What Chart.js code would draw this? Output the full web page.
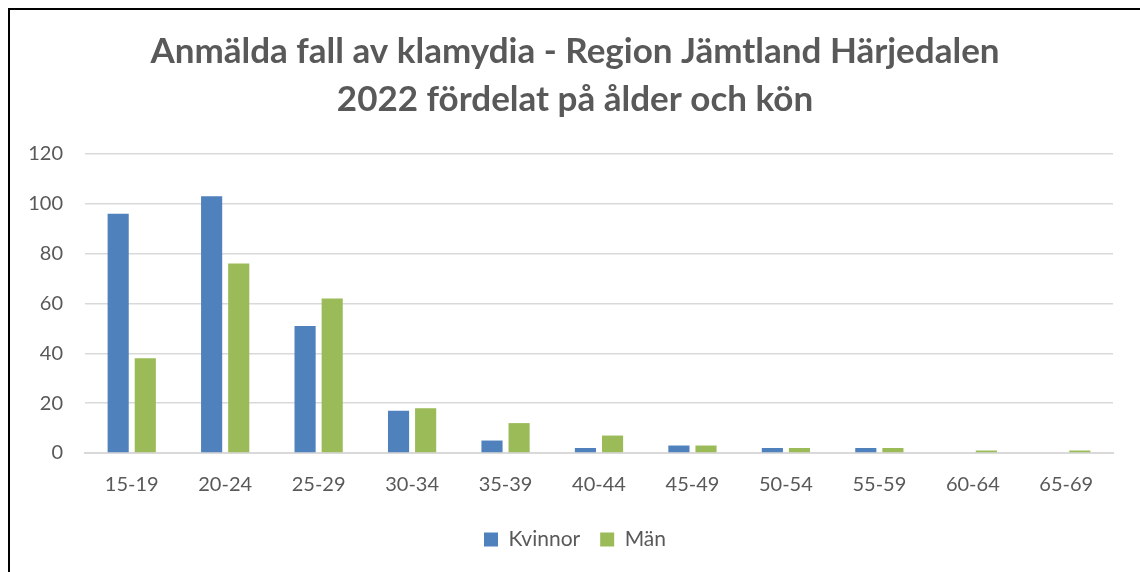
<!DOCTYPE html>
<html>
<head>
<meta charset="utf-8">
<script src="https://cdn.jsdelivr.net/npm/chart.js@4"></script>
<style>
  html, body { margin: 0; padding: 0; background: #fff; }
  #wrap { position: relative; width: 1140px; height: 572px; }
  #frame { position: absolute; left: 8px; top: 8px; right: 0; bottom: 0;
           border-left: 2px solid #000; border-top: 2px solid #000; pointer-events: none; }
  canvas { position: absolute; left: 0; top: 0; }
</style>
</head>
<body>
<div id="wrap">
  <canvas id="chart" width="1140" height="572"></canvas>
  <div id="frame"></div>
</div>
<script>
const ageGroups = ['15-19', '20-24', '25-29', '30-34', '35-39', '40-44', '45-49', '50-54', '55-59', '60-64', '65-69'];
const kvinnor = [96, 103, 51, 17, 5, 2, 3, 2, 2, 0, 0];
const man = [38, 76, 62, 18, 12, 7, 3, 2, 2, 1, 1];
const titleLines = ['Anmälda fall av klamydia - Region Jämtland Härjedalen', '2022 fördelat på ålder och kön'];

const grey = '#595959';
const ctx = document.getElementById('chart').getContext('2d');
new Chart(ctx, {
    type: 'bar',
    data: {
        labels: ageGroups,
        datasets: [
            { label: 'Kvinnor', data: kvinnor, backgroundColor: '#4f81bd' },
            { label: 'Män', data: man, backgroundColor: '#9bbb59' }
        ]
    },
    options: {
        responsive: false,
        animation: false,
        datasets: { bar: { barPercentage: 0.78, categoryPercentage: 0.58 } },
        layout: { padding: { left: 10, right: 0, top: 28, bottom: 12 } },
        plugins: {
            title: {
                display: true,
                text: titleLines,
                color: grey,
                font: { family: 'Lato', size: 35, weight: 'bold', lineHeight: 1.37 },
                padding: { top: 0, bottom: 30 }
            },
            legend: {
                position: 'bottom',
                labels: {
                    color: grey,
                    font: { family: 'Lato', size: 21 },
                    boxWidth: 14, boxHeight: 14, padding: 20
                }
            },
            tooltip: { enabled: false }
        },
        scales: {
            x: {
                grid: { display: false },
                border: { color: '#d9d9d9', width: 2 },
                ticks: { color: grey, font: { family: 'Lato', size: 20 }, padding: 12 }
            },
            y: {
                min: 0, max: 120,
                ticks: { stepSize: 20, color: grey, font: { family: 'Lato', size: 20 }, padding: 22 },
                grid: { color: '#d9d9d9', lineWidth: 1.5, drawTicks: false },
                border: { display: false },
                afterFit: (scale) => { scale.width = 75; }
            },
            // empty right axis, only reserves the space right of the plot
            yRight: {
                position: 'right',
                grid: { display: false },
                ticks: { display: false },
                border: { display: false },
                afterFit: (scale) => { scale.width = 27; }
            }
        }
    }
});
</script>
</body>
</html>
